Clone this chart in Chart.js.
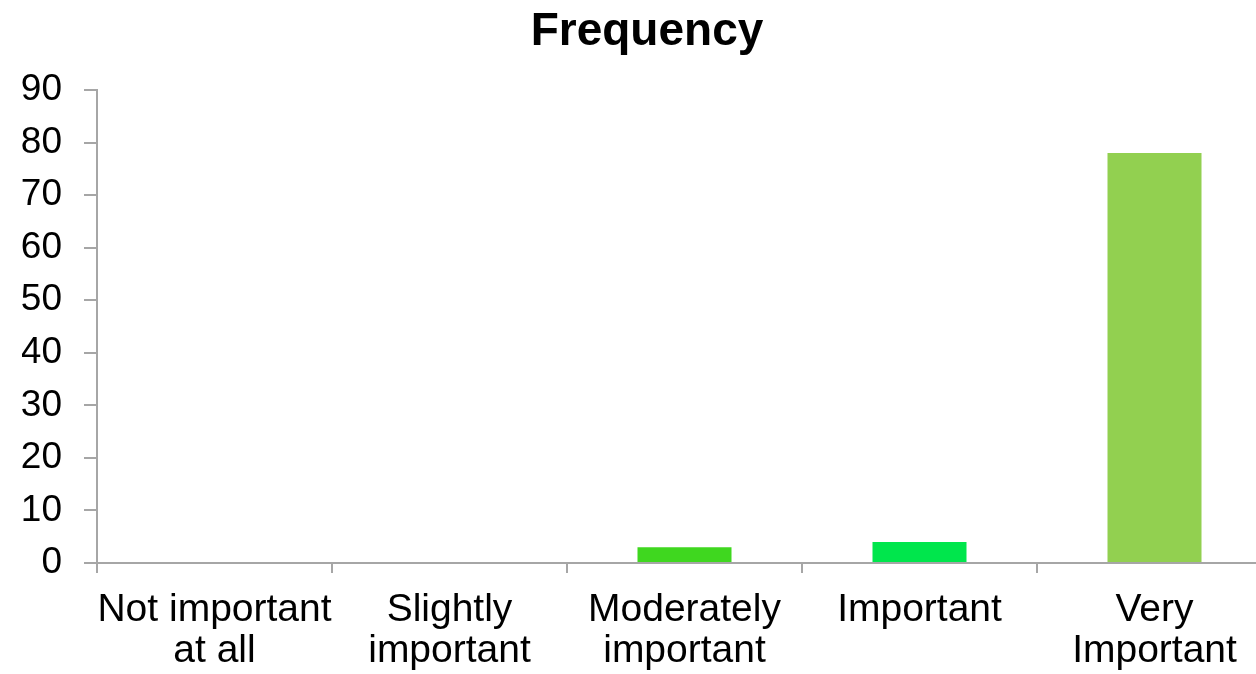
<!DOCTYPE html>
<html>
<head>
<meta charset="utf-8">
<script src="https://cdn.jsdelivr.net/npm/chart.js@4/dist/chart.umd.min.js"></script>
<style>
  html, body { margin: 0; padding: 0; background: #fff; overflow: hidden; }
  #wrap { width: 1280px; height: 674px; }
</style>
</head>
<body>
<div id="wrap"><canvas id="mycanvas" width="1280" height="674"></canvas></div>
<script>
var categories = [
  ['Not important', 'at all'],
  ['Slightly', 'important'],
  ['Moderately', 'important'],
  ['Important'],
  ['Very', 'Important']
];
var frequency = [0, 0, 3, 4, 78];
var yTicks = [0, 10, 20, 30, 40, 50, 60, 70, 80, 90];
var barColors = ['#92d050', '#92d050', '#3fd71f', '#00e64c', '#92d050'];

var axisGray = '#a6a6a6';
var font = 'Liberation Sans, Arial, sans-serif';

var ctx = document.getElementById('mycanvas');
var myChart = new Chart(ctx, {
  type: 'bar',
  data: {
    labels: categories,
    datasets: [{
      label: 'Frequency',
      data: frequency,
      backgroundColor: barColors,
      borderWidth: 0,
      barPercentage: 0.4,
      categoryPercentage: 1.0
    }]
  },
  options: {
    responsive: false,
    animation: false,
    devicePixelRatio: 1,
    layout: {
      padding: { left: 22, right: 8, top: 0, bottom: 0 }
    },
    plugins: {
      legend: { display: false },
      tooltip: { enabled: false },
      title: {
        display: true,
        text: 'Frequency',
        color: '#000',
        font: { family: font, size: 46, weight: 'bold', lineHeight: 1.2 },
        padding: { top: 5, bottom: 29.8 }
      }
    },
    scales: {
      x: {
        afterFit: function(scale) { scale.height = 111; },
        border: { color: axisGray, width: 2 },
        grid: {
          offset: true,
          drawOnChartArea: false,
          drawTicks: true,
          tickLength: 10,
          color: axisGray,
          lineWidth: 2
        },
        ticks: {
          color: '#000',
          font: { family: font, size: 39, lineHeight: 1.05 },
          padding: 17,
          maxRotation: 0,
          autoSkip: false
        }
      },
      y: {
        min: 0,
        max: 90,
        afterFit: function(scale) { scale.width = 75; },
        afterBuildTicks: function(scale) {
          scale.ticks = yTicks.map(function(v) { return { value: v }; });
        },
        border: { color: axisGray, width: 2 },
        grid: {
          drawOnChartArea: false,
          drawTicks: true,
          tickLength: 13,
          color: axisGray,
          lineWidth: 2
        },
        ticks: {
          color: '#000',
          font: { family: font, size: 37 },
          padding: 22
        }
      }
    }
  }
});
</script>
</body>
</html>
